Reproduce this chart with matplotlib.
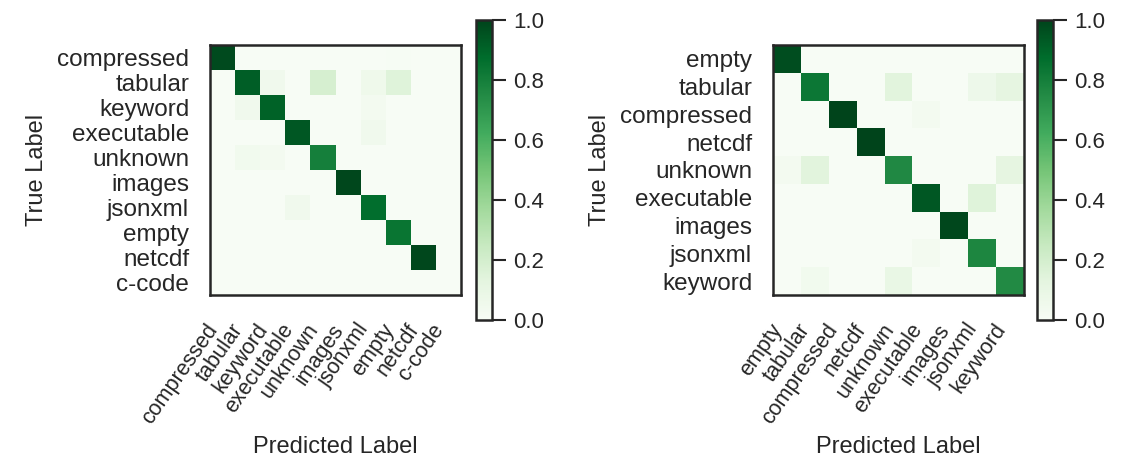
import numpy as np
import matplotlib
matplotlib.use("Agg")
import matplotlib.pyplot as plt
from matplotlib.transforms import ScaledTranslation

plt.rcParams['font.family'] = ['Liberation Sans', 'DejaVu Sans']
TXT = '#262626'
plt.rcParams['text.color'] = TXT
plt.rcParams['axes.labelcolor'] = TXT
plt.rcParams['xtick.color'] = TXT
plt.rcParams['ytick.color'] = TXT

labels_left = ["compressed", "tabular", "keyword", "executable", "unknown",
               "images", "jsonxml", "empty", "netcdf", "c-code"]
cm_left = [
    [0.98, 0.00, 0.00, 0.00, 0.00, 0.00, 0.00, 0.01, 0.00, 0.00],
    [0.00, 0.92, 0.05, 0.00, 0.19, 0.00, 0.06, 0.15, 0.00, 0.00],
    [0.00, 0.05, 0.91, 0.00, 0.00, 0.00, 0.03, 0.00, 0.00, 0.00],
    [0.00, 0.00, 0.00, 0.94, 0.00, 0.00, 0.05, 0.00, 0.00, 0.00],
    [0.00, 0.04, 0.03, 0.00, 0.80, 0.00, 0.00, 0.00, 0.00, 0.00],
    [0.00, 0.00, 0.00, 0.00, 0.00, 0.99, 0.00, 0.00, 0.00, 0.00],
    [0.00, 0.00, 0.00, 0.05, 0.00, 0.00, 0.87, 0.00, 0.00, 0.00],
    [0.00, 0.00, 0.00, 0.00, 0.00, 0.00, 0.00, 0.84, 0.00, 0.00],
    [0.00, 0.00, 0.00, 0.00, 0.00, 0.00, 0.00, 0.00, 0.99, 0.00],
    [0.00, 0.00, 0.00, 0.00, 0.00, 0.00, 0.00, 0.00, 0.00, 0.00],
]

labels_right = ["empty", "tabular", "compressed", "netcdf", "unknown",
                "executable", "images", "jsonxml", "keyword"]
cm_right = [
    [0.97, 0.00, 0.00, 0.00, 0.00, 0.00, 0.00, 0.00, 0.00],
    [0.00, 0.83, 0.00, 0.00, 0.14, 0.00, 0.00, 0.07, 0.12],
    [0.00, 0.00, 1.00, 0.00, 0.00, 0.03, 0.00, 0.00, 0.00],
    [0.00, 0.00, 0.00, 1.00, 0.00, 0.00, 0.00, 0.00, 0.00],
    [0.03, 0.14, 0.00, 0.00, 0.76, 0.00, 0.00, 0.00, 0.12],
    [0.00, 0.00, 0.00, 0.00, 0.00, 0.94, 0.00, 0.15, 0.00],
    [0.00, 0.00, 0.00, 0.00, 0.00, 0.00, 0.99, 0.00, 0.00],
    [0.00, 0.00, 0.00, 0.00, 0.00, 0.03, 0.00, 0.77, 0.00],
    [0.00, 0.04, 0.00, 0.00, 0.10, 0.00, 0.00, 0.00, 0.75],
]

cbar_ticks = [0.0, 0.2, 0.4, 0.6, 0.8, 1.0]

W, H = 1124, 472
fig = plt.figure(figsize=(W / 100, H / 100), dpi=100)


def px(l, t, w, h):
    return [l / W, (H - t - h) / H, w / W, h / H]


def draw(ax_rect, cb_rect, data, labels, ylab_px):
    ax = fig.add_axes(px(*ax_rect))
    cax = fig.add_axes(px(*cb_rect))
    arr = np.array(data)
    n = len(labels)
    im = ax.pcolormesh(np.arange(n + 1), np.arange(n + 1), arr, cmap='Greens',
                       vmin=0, vmax=1)
    ax.set_xlim(0, n)
    ax.set_ylim(n, 0)
    ax.set_xticks(np.arange(n) + 0.5)
    ax.set_yticks(np.arange(n) + 0.5)
    ax.set_xticklabels(labels, rotation=55, ha='right', fontsize=15.5)
    ax.set_yticklabels(labels, fontsize=17.5)
    ax.tick_params(length=0, pad=15)
    off = ScaledTranslation(0, -4 / 100, fig.dpi_scale_trans)
    for lab in ax.get_xticklabels():
        lab.set_transform(lab.get_transform() + off)
    for s in ax.spines.values():
        s.set_linewidth(1.8)
        s.set_color(TXT)
    ax.set_xlabel("Predicted Label", fontsize=17)
    ax.set_ylabel("True Label", fontsize=17)
    l, t, w, h = ax_rect
    ax.yaxis.set_label_coords((ylab_px + 13 - l) / w, 0.5)
    ax.xaxis.set_label_coords(0.5, -(436 - (t + h)) / h)

    cb = fig.colorbar(im, cax=cax, ticks=cbar_ticks)
    cb.ax.tick_params(length=10, width=1.5, pad=5, labelsize=16)
    cb.outline.set_linewidth(1.8)
    cb.outline.set_edgecolor(TXT)
    cb.ax.set_yticklabels([f"{t:.1f}" for t in cbar_ticks])
    return ax


draw((210, 45, 251, 250), (476, 20, 16, 300), cm_left, labels_left, 35)
draw((773, 45, 251, 250), (1037, 20, 16, 300), cm_right, labels_right, 598)

fig.savefig("out.png", dpi=100)
